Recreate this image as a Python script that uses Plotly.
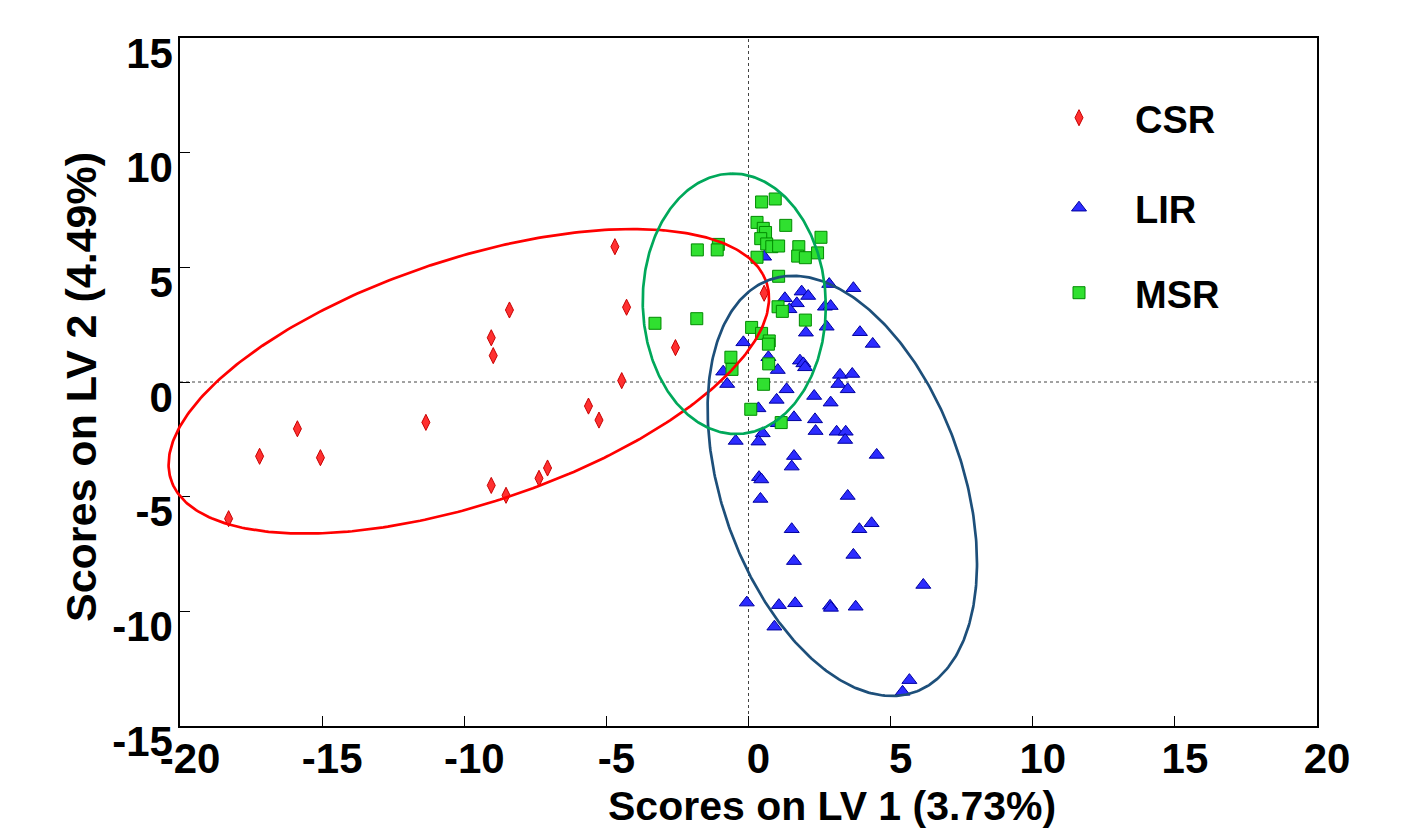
import numpy as np
import plotly.graph_objects as go

# ---------------- data ----------------
csr_x = [-4.70, -8.41, -4.29, -9.05, -8.98, -2.57, -4.46, -5.63, -5.26, -11.35,
         -15.87, -17.20, -15.06, -7.07, -7.37, -9.05, -8.53, -18.29, 0.55]
csr_y = [5.90, 3.14, 3.26, 1.93, 1.15, 1.50, 0.06, -1.05, -1.66, -1.76,
         -2.04, -3.24, -3.30, -3.75, -4.20, -4.51, -4.94, -5.96, 3.87]

lir_x = [2.84, 3.69, 1.87, 2.10, 1.28, 1.70, 1.44, 2.69, 2.89, 2.75,
         2.02, 3.92, 4.37, -0.18, 0.70, 1.03, 1.81, 1.93, 1.99, -0.89,
         -0.75, 3.22, 3.65, 3.16, 3.49, 1.34, 2.31, 0.99, 2.89, 0.35,
         1.60, 2.34, 1.03, 3.10, 3.42, 3.40, 2.36, 0.50, 0.35, -0.45,
         1.60, 4.51, 1.52, 0.55, 0.37, 0.45, 0.42, 3.49, 1.52, 3.90,
         4.33, 1.60, 3.69, 6.15, -0.06, 1.07, 1.64, 2.87, 2.90, 3.77,
         0.91, 5.66, 5.42]
lir_y = [4.27, 4.09, 3.94, 3.75, 3.65, 3.43, 3.17, 3.28, 3.31, 2.41,
         2.15, 2.17, 1.66, 1.73, 1.08, 0.52, 0.93, 0.81, 0.64, 0.45,
         -0.09, 0.31, 0.35, -0.09, -0.32, -0.32, -0.61, -0.78, -0.90, -1.15,
         -1.54, -1.63, -1.80, -2.17, -2.17, -2.53, -2.14, -2.24, -2.60, -2.57,
         -3.23, -3.18, -3.69, 5.46, -4.15, -4.25, -5.10, -4.97, -6.42, -6.42,
         -6.16, -7.81, -7.54, -8.85, -9.62, -9.73, -9.65, -9.76, -9.85, -9.80,
         -10.67, -13.00, -13.51]

msr_x = [0.46, 0.94, 0.30, 0.52, 0.60, 0.43, 1.31, 0.64, 0.82, 1.06,
         1.77, 1.73, 2.00, 2.55, 2.43, 0.30, -1.80, -1.06, -1.10, 1.06,
         1.04, 1.19, 2.00, -3.29, -1.82, 0.11, 0.46, 0.73, 0.70, -0.62,
         -0.58, 0.71, 0.53, 0.08, 1.15]
msr_y = [7.85, 7.98, 6.96, 6.70, 6.52, 6.25, 6.83, 6.02, 5.90, 5.93,
         5.90, 5.49, 5.42, 6.31, 5.63, 5.44, 5.76, 6.00, 5.76, 4.61,
         3.28, 3.08, 2.70, 2.56, 2.76, 2.38, 2.12, 1.79, 1.65, 1.08,
         0.55, 0.79, -0.10, -1.19, -1.77]

# confidence ellipses: centre, semi-axes, rotation (deg)
ell_cx = [-9.84, 3.30, -0.50]
ell_cy = [0.03, -4.53, 3.41]
ell_a = [11.35, 9.37, 5.68]
ell_b = [5.18, 4.31, 3.22]
ell_angle = [24.3, 103.7, 91.0]

x_range = [-20, 20]
y_range = [-15, 15]
x_ticks = [-20, -15, -10, -5, 0, 5, 10, 15, 20]
y_ticks = [-15, -10, -5, 0, 5, 10, 15]
x_title = "Scores on LV 1 (3.73%)"
y_title = "Scores on LV 2 (4.49%)"

# ---------------- styling ----------------
FONT = "Liberation Sans, Arial, sans-serif"
W, H = 1410, 828
ML, MR, MT, MB = 120, 40, 10, 60
PW, PH = W - ML - MR, H - MT - MB
# main plotting box in pixels
BX0, BX1, BY0, BY1 = 180, 1317, 38, 726
xd = [(BX0 - ML) / PW, (BX1 - ML) / PW]
yd = [(H - MB - BY1) / PH, (H - MB - BY0) / PH]

def full_range(rng, dom):
    u = (rng[1] - rng[0]) / (dom[1] - dom[0])
    return [rng[0] - dom[0] * u, rng[1] + (1 - dom[1]) * u]

fig = go.Figure()

fig.add_trace(go.Scatter(
    x=csr_x, y=csr_y, mode="markers", name="CSR", legend="legend",
    marker=dict(symbol="diamond-tall", size=11.5, color="#ff3030",
                line=dict(color="#c80000", width=1))))
fig.add_trace(go.Scatter(
    x=lir_x, y=lir_y, mode="markers", name="LIR", legend="legend2",
    marker=dict(symbol="triangle-up", size=13, color="#2c2cff",
                line=dict(color="#0000a0", width=1))))
fig.add_trace(go.Scatter(
    x=msr_x, y=msr_y, mode="markers", name="MSR", legend="legend3",
    marker=dict(symbol="square", size=12, color="#30e030",
                line=dict(color="#008a00", width=1))))

ell_colors = ["#ff0000", "#1d4f7a", "#00a85a"]
t = np.linspace(0, 2 * np.pi, 400)
for cx, cy, a, b, ang, col in zip(ell_cx, ell_cy, ell_a, ell_b, ell_angle, ell_colors):
    th = np.deg2rad(ang)
    ex = cx + a * np.cos(t) * np.cos(th) - b * np.sin(t) * np.sin(th)
    ey = cy + a * np.cos(t) * np.sin(th) + b * np.sin(t) * np.cos(th)
    fig.add_trace(go.Scatter(x=ex, y=ey, mode="lines", xaxis="x2", yaxis="y2",
                             showlegend=False, hoverinfo="skip",
                             line=dict(color=col, width=2.7)))

# zero reference lines
fig.add_shape(type="line", xref="x", yref="y", x0=0, x1=0, y0=y_range[0], y1=y_range[1],
              line=dict(color="#444", width=1, dash="dot"), layer="below")
fig.add_shape(type="line", xref="x", yref="y", x0=x_range[0], x1=x_range[1], y0=0, y1=0,
              line=dict(color="#444", width=1, dash="dot"), layer="below")

tickfont = dict(family=FONT, size=42, color="black", weight="bold")
fig.update_layout(
    width=W, height=H, margin=dict(l=ML, r=MR, t=MT, b=MB, autoexpand=False),
    paper_bgcolor="white", plot_bgcolor="rgba(0,0,0,0)",
    xaxis=dict(domain=xd, range=x_range, tickvals=x_ticks, ticktext=[str(v) for v in x_ticks],
               showgrid=False, zeroline=False, showline=True, linecolor="black", linewidth=1.5,
               mirror=True, ticks="inside", ticklen=10, tickcolor="black", tickwidth=1,
               tickfont=tickfont, ticklabelstandoff=-5, ticklabelshift=10, anchor="y",
               automargin=False),
    yaxis=dict(domain=yd, range=y_range, tickvals=y_ticks, ticktext=[str(v) for v in y_ticks],
               showgrid=False, zeroline=False, showline=True, linecolor="black", linewidth=1.5,
               mirror=True, ticks="inside", ticklen=10, tickcolor="black", tickwidth=1,
               tickfont=tickfont, ticklabelstandoff=-3, ticklabelshift=15, anchor="x",
               automargin=False),
    xaxis2=dict(domain=[0, 1], range=full_range(x_range, xd), visible=False, anchor="y2",
                automargin=False),
    yaxis2=dict(domain=[0, 1], range=full_range(y_range, yd), visible=False, anchor="x2",
                automargin=False),
    showlegend=True,
)

legfont = dict(family=FONT, size=38, color="black", weight="bold")
leg_common = dict(font=legfont, bgcolor="rgba(0,0,0,0)", borderwidth=0,
                  xanchor="left", yanchor="middle", itemwidth=102)
lx = (1023 - ML) / PW
fig.update_layout(
    legend=dict(x=lx, y=(H - MB - 118) / PH, **leg_common),
    legend2=dict(x=lx, y=(H - MB - 208) / PH, **leg_common),
    legend3=dict(x=lx, y=(H - MB - 293) / PH, **leg_common),
)

fig.add_annotation(text=x_title, xref="paper", yref="paper",
                   x=(832 - ML) / PW, y=(H - MB - 806) / PH,
                   xanchor="center", yanchor="middle", showarrow=False,
                   font=dict(family=FONT, size=41, color="black", weight="bold"))
fig.add_annotation(text=y_title, xref="paper", yref="paper",
                   x=(81 - ML) / PW, y=(H - MB - 387) / PH, textangle=-90,
                   xanchor="center", yanchor="middle", showarrow=False,
                   font=dict(family=FONT, size=43, color="black", weight="bold"))

fig.write_html("out.html")
